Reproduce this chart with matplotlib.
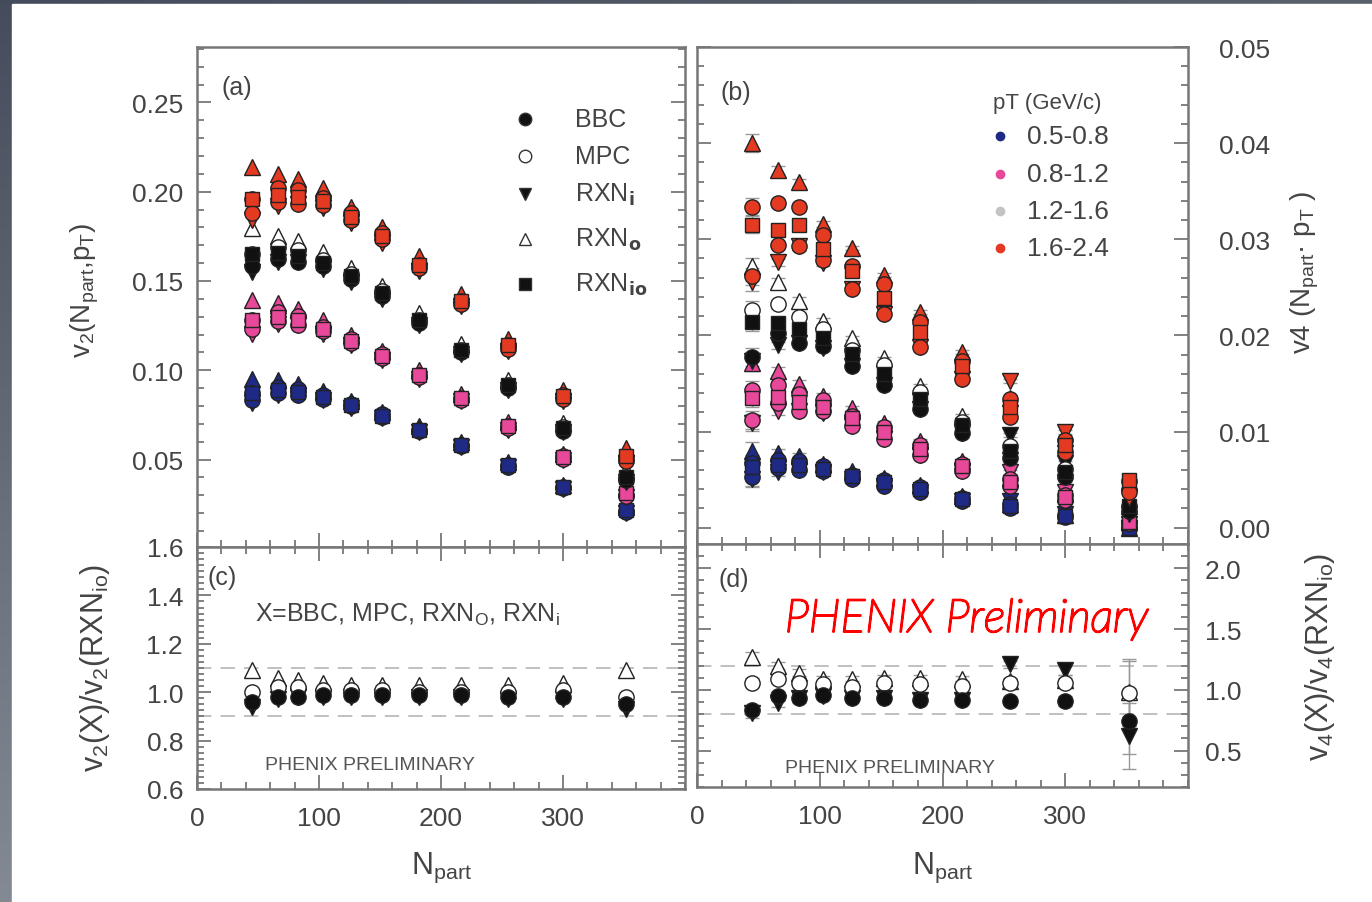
import numpy as np
import matplotlib
matplotlib.use("Agg")
import matplotlib.pyplot as plt
import matplotlib.patheffects as pe
from matplotlib.patches import Rectangle
from matplotlib.ticker import MultipleLocator

plt.rcParams['font.family'] = ['Liberation Sans', 'DejaVu Sans']
plt.rcParams['mathtext.default'] = 'regular'

# centrality bins
npart = [45, 66, 83, 103, 126, 152, 182, 216, 255, 300, 352]

# v2 from RXNio per pT bin (panel a)
v2_blue = [0.087, 0.089, 0.088, 0.085, 0.0805, 0.0746, 0.0665, 0.058, 0.047, 0.0345, 0.0216]
v2_pink = [0.128, 0.130, 0.128, 0.123, 0.1164, 0.1078, 0.0971, 0.0843, 0.0688, 0.0512, 0.031]
v2_black = [0.165, 0.1655, 0.164, 0.160, 0.1525, 0.143, 0.128, 0.1113, 0.0917, 0.0675, 0.0404]
v2_red = [0.196, 0.198, 0.197, 0.1945, 0.186, 0.175, 0.159, 0.1385, 0.114, 0.0854, 0.0518]

# v2(X)/v2(RXNio) (panel c)
r2_bbc = [0.96, 0.98, 0.98, 0.99, 0.99, 0.99, 0.99, 0.99, 0.98, 0.98, 0.95]
r2_mpc = [1.00, 1.02, 1.02, 1.01, 1.01, 1.01, 1.00, 1.00, 1.00, 1.01, 0.98]
r2_rxni = [0.94, 0.97, 0.98, 0.98, 0.98, 0.98, 0.98, 0.98, 0.97, 0.97, 0.93]
r2_rxno = [1.09, 1.06, 1.05, 1.04, 1.03, 1.03, 1.03, 1.03, 1.03, 1.04, 1.09]

# v4 from RXNio per pT bin (panel b)
v4_blue = [0.0063, 0.0065, 0.0065, 0.0061, 0.0054, 0.0047, 0.0040, 0.0030, 0.0023, 0.0012, 0.0000]
v4_pink = [0.0135, 0.0136, 0.0131, 0.0126, 0.0114, 0.0099, 0.0082, 0.0064, 0.0048, 0.0032, 0.0006]
v4_black = [0.0214, 0.0213, 0.0207, 0.0197, 0.0181, 0.0160, 0.0134, 0.0107, 0.0080, 0.0058, 0.0023]
v4_red = [0.0315, 0.0310, 0.0315, 0.0290, 0.0267, 0.0239, 0.0204, 0.0168, 0.0126, 0.0086, 0.0050]
v4_err = [0.0009, 0.0004, 0.0004, 0.0003, 0.0002, 0.0002, 0.0002, 0.0002, 0.0002, 0.0002, 0.0002]

# v4(X)/v4(RXNio) (panel d)
r4_bbc = [0.83, 0.95, 0.93, 0.96, 0.93, 0.93, 0.92, 0.92, 0.91, 0.91, 0.74]
r4_mpc = [1.06, 1.09, 1.06, 1.05, 1.02, 1.06, 1.05, 1.03, 1.06, 1.06, 0.97]
r4_rxni = [0.81, 0.89, 0.93, 0.95, 0.93, 0.93, 0.92, 0.92, 1.21, 1.16, 0.62]
r4_rxno = [1.27, 1.20, 1.14, 1.09, 1.09, 1.10, 1.10, 1.09, 1.07, 1.08, 0.98]
r4_err = [0.04, 0.03, 0.03, 0.02, 0.02, 0.02, 0.02, 0.02, 0.03, 0.04, 0.27]

pt_labels = ['0.5-0.8', '0.8-1.2', '1.2-1.6', '1.6-2.4']
pt_colors = ['#1e2a86', '#e8489a', '#111111', '#e53a22']
legend_dot_colors = ['#1e2a86', '#e8489a', '#c4c4c4', '#e53a22']
det_names = ['BBC', 'MPC', 'RXN$_\\mathbf{i}$', 'RXN$_\\mathbf{o}$', 'RXN$_\\mathbf{io}$']
det_markers = ['o', 'o', 'v', '^', 's']

TXT = '#444444'
AX = '#777777'

fig = plt.figure(figsize=(13.72, 9.03), dpi=100)

# slide background
bg = fig.add_axes([0, 0, 1, 1], zorder=-10)
yy, xx = np.mgrid[0:1:200j, 0:1:200j]
top = np.array([0.27, 0.30, 0.36])
bot = np.array([0.60, 0.62, 0.65])
grad = top + (bot - top) * (0.75 * yy + 0.25 * xx)[..., None]
bg.imshow(grad, extent=[0, 1, 0, 1], aspect='auto', origin='upper')
bg.add_patch(Rectangle((12 / 1372, 0), 1, 1 - 5 / 903, color='white'))
bg.set_xlim(0, 1)
bg.set_ylim(0, 1)
bg.axis('off')

ax_a = fig.add_axes([197 / 1372, 1 - 548 / 903, 488 / 1372, 500 / 903])
ax_c = fig.add_axes([197 / 1372, 1 - 790 / 903, 488 / 1372, 242 / 903])
ax_b = fig.add_axes([697 / 1372, 1 - 545 / 903, 491 / 1372, 497 / 903])
ax_d = fig.add_axes([697 / 1372, 1 - 788 / 903, 491 / 1372, 243 / 903])


def style(ax, top=False, right_labels=False):
    for s in ax.spines.values():
        s.set_color(AX)
        s.set_linewidth(1.8)
    ax.set_xlim(0, 400)
    ax.xaxis.set_major_locator(MultipleLocator(100))
    ax.xaxis.set_minor_locator(MultipleLocator(20))
    ax.tick_params(which='both', direction='in', left=True, right=True,
                   bottom=True, top=top, colors=AX, width=1.3,
                   labelsize=19, labelcolor=TXT)
    ax.tick_params(which='major', length=10)
    ax.tick_params(which='minor', length=5)
    if right_labels:
        ax.tick_params(labelleft=False, labelright=True)


def draw_group(ax, x, vals, ratios, color, err=None, with_io=True):
    # order: RXNo, RXNi, MPC, BBC, RXNio
    dark = color == '#111111'
    order = [3, 2, 1, 0, 4] if with_io else [3, 2, 1, 0]
    for k in order:
        y = np.array(vals) * np.array(ratios[k]) if ratios[k] is not None else np.array(vals)
        face = color
        if dark and k in (1, 3):
            face = 'white'
        if err is not None:
            ax.errorbar(x, y, yerr=err, fmt='none', ecolor='#999999', elinewidth=1,
                        capsize=5, capthick=1, zorder=2)
        ax.plot(x, y, linestyle='none', marker=det_markers[k], markersize=11 if k != 4 else 10,
                markerfacecolor=face, markeredgecolor='#222222', markeredgewidth=1, zorder=3)


# panel (a)
style(ax_a)
ax_a.set_ylim(0.001, 0.281)
ax_a.yaxis.set_major_locator(MultipleLocator(0.05))
ax_a.yaxis.set_minor_locator(MultipleLocator(0.01))
ax_a.set_yticks([0.05, 0.10, 0.15, 0.20, 0.25])
ax_a.set_yticklabels(['0.05', '0.10', '0.15', '0.20', '0.25'])
ax_a.tick_params(labelbottom=False, pad=10)
ratios2 = [r2_bbc, r2_mpc, r2_rxni, r2_rxno, None]
for vals, col in zip([v2_blue, v2_pink, v2_black, v2_red], pt_colors):
    draw_group(ax_a, npart, vals, ratios2, col)
ax_a.text(0.051, 0.92, '(a)', transform=ax_a.transAxes, fontsize=18, color=TXT, va='center')
leg_y = [0.856, 0.782, 0.706, 0.616, 0.526]
for k in range(5):
    face = 'white' if k in (1, 3) else '#111111'
    ax_a.plot([0.672], [leg_y[k]], transform=ax_a.transAxes, marker=det_markers[k],
              markersize=9, markerfacecolor=face, markeredgecolor='#333333',
              linestyle='none', clip_on=False)
    ax_a.text(0.775, leg_y[k], det_names[k], transform=ax_a.transAxes, fontsize=18,
              color=TXT, va='center')

# panel (c)
style(ax_c, top=True)
ax_c.set_ylim(0.6, 1.6)
ax_c.yaxis.set_major_locator(MultipleLocator(0.2))
ax_c.yaxis.set_minor_locator(MultipleLocator(0.025))
ax_c.set_xticks([0, 100, 200, 300])
ax_c.tick_params(axis='x', pad=12)
ax_c.tick_params(axis='y', pad=10)
for lv in (1.1, 0.9):
    ax_c.axhline(lv, color='#bbbbbb', linestyle=(0, (8, 5)), linewidth=1.3, zorder=1)
ones = np.ones(len(npart))
draw_group(ax_c, npart, ones, ratios2, '#111111', with_io=False)
ax_c.text(0.0225, 0.876, '(c)', transform=ax_c.transAxes, fontsize=18, color=TXT, va='center')
ax_c.text(0.119, 0.723, 'X=BBC, MPC, RXN$_O$, RXN$_i$', transform=ax_c.transAxes,
          fontsize=18, color=TXT, va='center')
ax_c.text(0.139, 0.103, 'PHENIX PRELIMINARY', transform=ax_c.transAxes, fontsize=14,
          color='#555555', va='center')

# panel (b)
style(ax_b, right_labels=True)
ax_b.set_ylim(-0.0017, 0.05)
ax_b.yaxis.set_major_locator(MultipleLocator(0.01))
ax_b.yaxis.set_minor_locator(MultipleLocator(0.002))
ax_b.set_yticks([0.0, 0.01, 0.02, 0.03, 0.04, 0.05])
ax_b.set_yticklabels(['0.00', '0.01', '0.02', '0.03', '0.04', '0.05'])
ax_b.tick_params(labelbottom=False)
ax_b.tick_params(axis='y', pad=22)
ratios4 = [r4_bbc, r4_mpc, r4_rxni, r4_rxno, None]
for vals, col in zip([v4_blue, v4_pink, v4_black, v4_red], pt_colors):
    draw_group(ax_b, npart, vals, ratios4, col, err=v4_err)
ax_b.text(0.047, 0.909, '(b)', transform=ax_b.transAxes, fontsize=18, color=TXT, va='center')
ax_b.text(0.603, 0.889, 'pT (GeV/c)', transform=ax_b.transAxes, fontsize=16, color=TXT,
          va='center')
dot_y = [0.821, 0.744, 0.670, 0.596]
for lab, c, yv in zip(pt_labels, legend_dot_colors, dot_y):
    ax_b.plot([0.617], [yv], transform=ax_b.transAxes, marker='o', markersize=6,
              color=c, linestyle='none')
    ax_b.text(0.672, yv, lab, transform=ax_b.transAxes, fontsize=19, color=TXT, va='center')

# panel (d)
style(ax_d, top=True, right_labels=True)
ax_d.set_ylim(0.2, 2.2)
ax_d.yaxis.set_major_locator(MultipleLocator(0.5))
ax_d.yaxis.set_minor_locator(MultipleLocator(0.1))
ax_d.set_yticks([0.5, 1.0, 1.5, 2.0])
ax_d.set_xticks([0, 100, 200, 300])
ax_d.tick_params(axis='x', pad=12)
ax_d.tick_params(axis='y', pad=12)
for lv in (1.2, 0.8):
    ax_d.axhline(lv, color='#bbbbbb', linestyle=(0, (8, 5)), linewidth=1.3, zorder=1)
draw_group(ax_d, npart, ones, ratios4, '#111111', err=r4_err, with_io=False)
ax_d.text(0.043, 0.856, '(d)', transform=ax_d.transAxes, fontsize=18, color=TXT, va='center')
ax_d.text(0.179, 0.69, 'PHENIX Preliminary', transform=ax_d.transAxes, fontsize=33,
          color='#ff0000', style='italic', fontweight='light', family=['Lato', 'DejaVu Sans'],
          va='center',
          path_effects=[pe.Stroke(linewidth=1.6, foreground='#ff0000'), pe.Normal()])
ax_d.text(0.179, 0.082, 'PHENIX PRELIMINARY', transform=ax_d.transAxes, fontsize=14,
          color='#555555', va='center')

# axis titles
fig.text(85 / 1372, 1 - 290 / 903, 'v$_2$(N$_{part}$,p$_T$)', rotation=90, fontsize=20,
         color=TXT, ha='center', va='center')
fig.text(95 / 1372, 1 - 668 / 903, 'v$_2$(X)/v$_2$(RXN$_{io}$)', rotation=90, fontsize=22,
         color=TXT, ha='center', va='center')
fig.text(1305 / 1372, 1 - 272 / 903, 'v4 (N$_{part}$· p$_T$ )', rotation=90, fontsize=20,
         color=TXT, ha='center', va='center')
fig.text(1320 / 1372, 1 - 657 / 903, 'v$_4$(X)/v$_4$(RXN$_{io}$)', rotation=90, fontsize=22,
         color=TXT, ha='center', va='center')
fig.text(441 / 1372, 1 - 868 / 903, 'N$_{part}$', fontsize=22, color=TXT, ha='center',
         va='center')
fig.text(942 / 1372, 1 - 868 / 903, 'N$_{part}$', fontsize=22, color=TXT, ha='center',
         va='center')

fig.savefig('out.png', dpi=100)
